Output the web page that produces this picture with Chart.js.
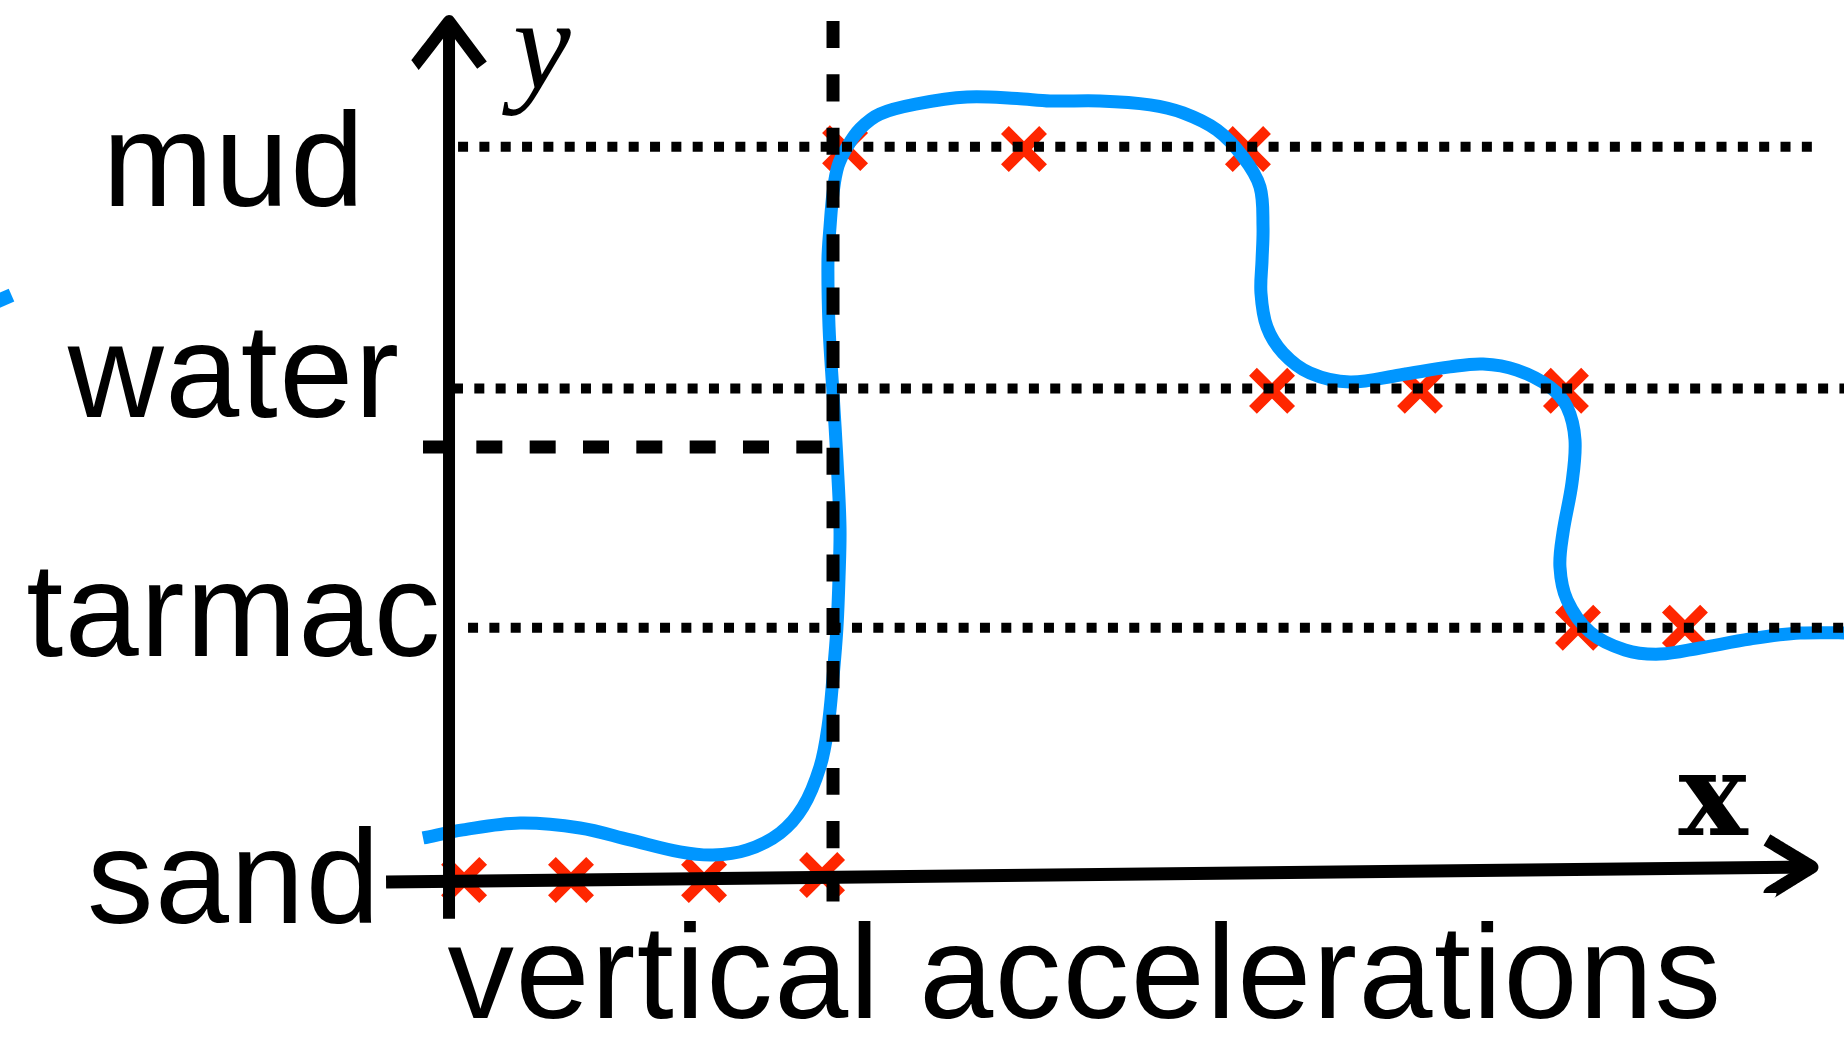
<!DOCTYPE html>
<html>
<head>
<meta charset="utf-8">
<script src="https://cdn.jsdelivr.net/npm/chart.js@4.4.1/dist/chart.umd.min.js"></script>
<style>
  html, body { margin: 0; padding: 0; background: #ffffff; overflow: hidden; }
  #wrap { position: relative; width: 1844px; height: 1039px; }
</style>
</head>
<body>
<div id="wrap"><canvas id="c"></canvas></div>
<script>
// ---------- data ----------
const categories = ['sand', 'tarmac', 'water', 'mud'];          // y tick labels
const levelY = [0, 1.02, 2.0, 2.99];                              // level of each class
const labelBaselineY = [-0.189, 0.904, 1.883, 2.747];             // where each tick label sits
const xAxisTitle = 'vertical accelerations';
const xSymbol = 'x';
const ySymbol = 'y';

// observations (red crosses)
const crossX = [1.10, 8.91, 18.63, 27.25, 28.93, 42.00, 58.36, 60.12, 70.93, 81.59, 82.47, 90.28];
const crossY = [-0.013, -0.013, -0.013, 0.007, 2.984, 2.98, 2.98, 1.99, 1.99, 1.99, 1.02, 1.02];

// fitted curve (blue)
const curveX = [-1.90, 1.02, 5.19, 9.57, 13.22, 16.87, 19.28, 21.77, 24.18, 25.86, 27.10, 27.68, 28.05, 28.34, 28.49, 28.56,
  28.34, 28.05, 27.76, 27.68, 27.83, 28.05, 28.41, 29.07, 30.02, 31.48, 34.19, 37.84, 41.49, 43.90, 47.55, 51.21,
  53.62, 56.10, 58.00, 59.24, 59.46, 59.39, 59.31, 59.75, 60.92, 62.89, 65.81, 69.47, 73.12, 75.53, 78.01, 80.42,
  81.67, 82.25, 82.03, 81.37, 81.15, 81.67, 83.35, 85.90, 88.46, 91.38, 95.03, 98.69, 103.0];
const curveY = [0.159, 0.192, 0.220, 0.200, 0.151, 0.102, 0.089, 0.110, 0.179, 0.286, 0.450, 0.613, 0.818, 1.023, 1.228, 1.432,
  1.707, 1.981, 2.251, 2.526, 2.661, 2.800, 2.910, 2.988, 3.063, 3.124, 3.165, 3.193, 3.187, 3.177, 3.177, 3.161,
  3.128, 3.058, 2.948, 2.825, 2.661, 2.526, 2.391, 2.251, 2.145, 2.063, 2.026, 2.055, 2.088, 2.100, 2.075, 2.006,
  1.924, 1.789, 1.613, 1.408, 1.269, 1.133, 1.002, 0.929, 0.912, 0.937, 0.974, 0.998, 0.998];

// stray curve fragment at the left edge
const fragmentX = [-33.53, -31.96];
const fragmentY = [2.344, 2.382];

// level guide lines (dotted): mud, water, tarmac
const guideStartX = [0.66, 0.29, 1.39];
const guideEndX = [100.0, 104.0, 104.0];
const guideLevel = [levelY[3], levelY[2], levelY[1]];

// threshold (dashed)
const thresholdX = 28.05;
const thresholdY = 1.76;
const thresholdXFrom = -1.90;
const thresholdYTop = 3.504;
const thresholdYBottom = -0.103;

// axes
const xAxisX = [-4.60, 99.56];
const xAxisY = [-0.021, 0.040];
const xArrowX = [96.27, 99.56, 96.49];
const xArrowY = [0.151, 0.040, -0.066];
const yAxisX = [0, 0];
const yAxisY = [-0.172, 3.504];
const yArrowX = [-2.48, 0, 2.41];
const yArrowY = [3.324, 3.504, 3.324];

// ---------- build datasets ----------
const pts = (xs, ys) => xs.map((x, i) => ({ x: x, y: ys[i] }));

const BLUE = '#0096FF';
const RED = '#FF2600';
const BLACK = '#000000';

const lineBase = { pointRadius: 0, pointHoverRadius: 0, pointHitRadius: 0, fill: false, showLine: true };

const datasets = [];

datasets.push({ ...lineBase, label: 'observations', data: pts(crossX, crossY), showLine: false,
  pointStyle: 'crossRot', pointRadius: 27, pointHoverRadius: 27, pointBorderWidth: 11,
  pointBorderColor: RED, pointBackgroundColor: RED, order: 6 });

datasets.push({ ...lineBase, label: 'curve', data: pts(curveX, curveY), borderColor: BLUE, borderWidth: 13,
  tension: 0.35, borderCapStyle: 'butt', borderJoinStyle: 'round', order: 5 });

datasets.push({ ...lineBase, label: 'fragment', data: pts(fragmentX, fragmentY), borderColor: BLUE, borderWidth: 14,
  tension: 0, borderCapStyle: 'butt', order: 5 });

guideLevel.forEach((lv, i) => {
  datasets.push({ ...lineBase, label: 'guide' + i,
    data: [{ x: guideStartX[i], y: lv }, { x: guideEndX[i], y: lv }],
    borderColor: BLACK, borderWidth: 10, borderDash: [10, 11.33], borderCapStyle: 'butt', tension: 0, order: 4 });
});

datasets.push({ ...lineBase, label: 'thresholdH',
  data: [{ x: thresholdXFrom, y: thresholdY }, { x: thresholdX - 0.29, y: thresholdY }],
  borderColor: BLACK, borderWidth: 13, borderDash: [26, 27.33], borderCapStyle: 'butt', tension: 0, order: 3 });

datasets.push({ ...lineBase, label: 'thresholdV',
  data: [{ x: thresholdX, y: thresholdYTop }, { x: thresholdX, y: thresholdYBottom }],
  borderColor: BLACK, borderWidth: 13, borderDash: [27, 26.33], borderCapStyle: 'butt', tension: 0.000001, order: 3 });

datasets.push({ ...lineBase, label: 'xAxis', data: pts(xAxisX, xAxisY), borderColor: BLACK, borderWidth: 13,
  tension: 0, borderCapStyle: 'butt', order: 1 });
datasets.push({ ...lineBase, label: 'xArrow', data: pts(xArrowX, xArrowY), borderColor: BLACK, borderWidth: 13,
  tension: 0.000001, borderCapStyle: 'butt', borderJoinStyle: 'round', order: 1 });
datasets.push({ ...lineBase, label: 'yAxis', data: pts(yAxisX, yAxisY), borderColor: BLACK, borderWidth: 12,
  tension: 0.000001, borderCapStyle: 'butt', order: 1 });
datasets.push({ ...lineBase, label: 'yArrow', data: pts(yArrowX, yArrowY), borderColor: BLACK, borderWidth: 12,
  tension: 0.000001, borderCapStyle: 'butt', borderJoinStyle: 'round', order: 1 });

// ---------- text plugin ----------
const textLayout = {
  tickCenterX: -15.7,
  titleCenterX: 46.46, titleBaselineY: -0.578,
  xSymCenterX: 92.33, xSymBaselineY: 0.172,
  ySymCenterX: 6.79, ySymBaselineY: 3.230
};

const textPlugin = {
  id: 'diagramTexts',
  afterDraw(chart) {
    const ctx = chart.ctx;
    const xs = chart.scales.x, ys = chart.scales.y;
    ctx.save();
    ctx.fillStyle = BLACK;
    ctx.textAlign = 'center';
    ctx.textBaseline = 'alphabetic';
    ctx.font = '133px "Liberation Sans", Arial, Helvetica, sans-serif';
    if ('letterSpacing' in ctx) ctx.letterSpacing = '1.5px';
    categories.forEach((c, i) => {
      ctx.fillText(c, xs.getPixelForValue(textLayout.tickCenterX), ys.getPixelForValue(labelBaselineY[i]));
    });
    ctx.fillText(xAxisTitle, xs.getPixelForValue(textLayout.titleCenterX), ys.getPixelForValue(textLayout.titleBaselineY));
    if ('letterSpacing' in ctx) ctx.letterSpacing = '0px';
    ctx.font = 'bold 116px "DejaVu Serif", "Liberation Serif", serif';
    ctx.fillText(xSymbol, xs.getPixelForValue(textLayout.xSymCenterX), ys.getPixelForValue(textLayout.xSymBaselineY));
    ctx.font = 'italic 130px "Liberation Serif", "DejaVu Serif", serif';
    ctx.fillText(ySymbol, xs.getPixelForValue(textLayout.ySymCenterX), ys.getPixelForValue(textLayout.ySymBaselineY));
    ctx.restore();
  }
};

new Chart(document.getElementById('c'), {
  type: 'line',
  data: { datasets: datasets },
  options: {
    responsive: true,
    maintainAspectRatio: false,
    devicePixelRatio: 1,
    animation: false,
    events: [],
    layout: { padding: 0, autoPadding: false },
    plugins: { legend: { display: false }, tooltip: { enabled: false }, title: { display: false } },
    scales: {
      x: { type: 'linear', display: false, min: -32.8, max: 101.9 },
      y: { type: 'linear', display: false, min: -0.6642, max: 3.5905 }
    }
  },
  plugins: [textPlugin]
});
</script>
</body>
</html>
